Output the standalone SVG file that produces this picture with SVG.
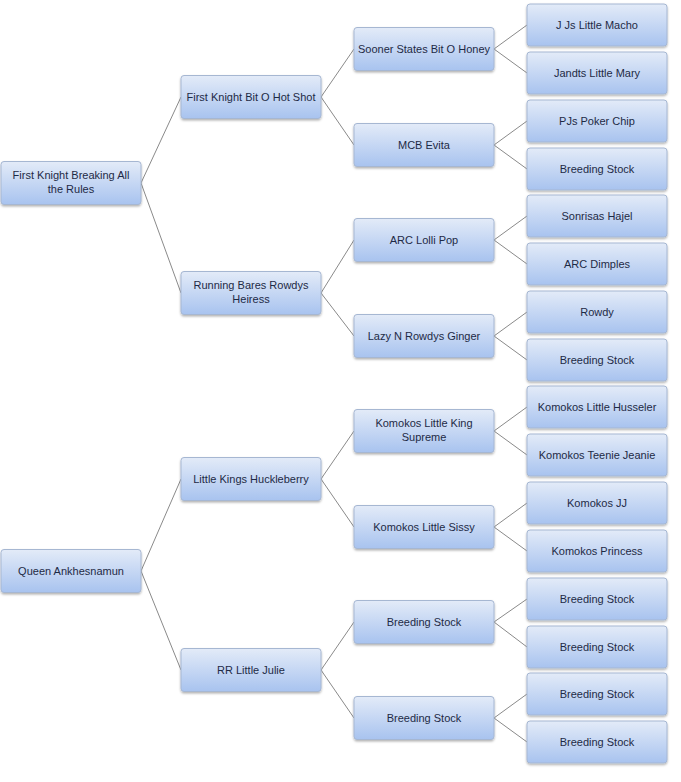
<svg xmlns="http://www.w3.org/2000/svg" width="681" height="782" viewBox="0 0 681 782">
<defs>
<linearGradient id="g" x1="0" y1="0" x2="0" y2="1">
<stop offset="0" stop-color="#e3ebf8"/>
<stop offset="1" stop-color="#a8c3ef"/>
</linearGradient>
<filter id="sh" x="-10%" y="-20%" width="120%" height="150%">
<feDropShadow dx="0" dy="1.5" stdDeviation="1.2" flood-color="#000" flood-opacity="0.3"/>
</filter>
</defs>
<style>
.n rect{fill:url(#g);stroke:#a6b7d2;stroke-width:1;filter:url(#sh)}
.n text{font-family:"Liberation Sans",Arial,sans-serif;font-size:11px;fill:#1e2a45;text-anchor:middle}
#connectors line{stroke:#8a8a8a;stroke-width:1}
</style>
<rect width="681" height="782" fill="#fff"/>
<g id="connectors">
<line x1="141" y1="183" x2="181" y2="97"/>
<line x1="141" y1="183" x2="181" y2="293"/>
<line x1="141" y1="571" x2="181" y2="479"/>
<line x1="141" y1="571" x2="181" y2="670"/>
<line x1="321" y1="97" x2="354" y2="49"/>
<line x1="321" y1="97" x2="354" y2="145"/>
<line x1="321" y1="293" x2="354" y2="240"/>
<line x1="321" y1="293" x2="354" y2="336"/>
<line x1="321" y1="479" x2="354" y2="431"/>
<line x1="321" y1="479" x2="354" y2="527"/>
<line x1="321" y1="670" x2="354" y2="622"/>
<line x1="321" y1="670" x2="354" y2="718"/>
<line x1="494" y1="49" x2="527" y2="25"/>
<line x1="494" y1="49" x2="527" y2="73"/>
<line x1="494" y1="145" x2="527" y2="121"/>
<line x1="494" y1="145" x2="527" y2="169"/>
<line x1="494" y1="240" x2="527" y2="216"/>
<line x1="494" y1="240" x2="527" y2="264"/>
<line x1="494" y1="336" x2="527" y2="312"/>
<line x1="494" y1="336" x2="527" y2="360"/>
<line x1="494" y1="431" x2="527" y2="407"/>
<line x1="494" y1="431" x2="527" y2="455"/>
<line x1="494" y1="527" x2="527" y2="503"/>
<line x1="494" y1="527" x2="527" y2="551"/>
<line x1="494" y1="622" x2="527" y2="599"/>
<line x1="494" y1="622" x2="527" y2="647"/>
<line x1="494" y1="718" x2="527" y2="694"/>
<line x1="494" y1="718" x2="527" y2="742"/>
</g>
<g id="n1" class="n"><rect x="1" y="161.5" width="140" height="43" rx="3"/><text x="71" y="179">First Knight Breaking All</text><text x="71" y="193">the Rules</text></g>
<g id="n2" class="n"><rect x="1" y="549.5" width="140" height="43" rx="3"/><text x="71" y="575">Queen Ankhesnamun</text></g>
<g id="n3" class="n"><rect x="181" y="75.5" width="140" height="43" rx="3"/><text x="251" y="101">First Knight Bit O Hot Shot</text></g>
<g id="n4" class="n"><rect x="181" y="271.5" width="140" height="43" rx="3"/><text x="251" y="289">Running Bares Rowdys</text><text x="251" y="303">Heiress</text></g>
<g id="n5" class="n"><rect x="181" y="457.5" width="140" height="43" rx="3"/><text x="251" y="483">Little Kings Huckleberry</text></g>
<g id="n6" class="n"><rect x="181" y="648.5" width="140" height="43" rx="3"/><text x="251" y="674">RR Little Julie</text></g>
<g id="n7" class="n"><rect x="354" y="27.5" width="140" height="43" rx="3"/><text x="424" y="53">Sooner States Bit O Honey</text></g>
<g id="n8" class="n"><rect x="354" y="123.5" width="140" height="43" rx="3"/><text x="424" y="149">MCB Evita</text></g>
<g id="n9" class="n"><rect x="354" y="218.5" width="140" height="43" rx="3"/><text x="424" y="244">ARC Lolli Pop</text></g>
<g id="n10" class="n"><rect x="354" y="314.5" width="140" height="43" rx="3"/><text x="424" y="340">Lazy N Rowdys Ginger</text></g>
<g id="n11" class="n"><rect x="354" y="409.5" width="140" height="43" rx="3"/><text x="424" y="427">Komokos Little King</text><text x="424" y="441">Supreme</text></g>
<g id="n12" class="n"><rect x="354" y="505.5" width="140" height="43" rx="3"/><text x="424" y="531">Komokos Little Sissy</text></g>
<g id="n13" class="n"><rect x="354" y="600.5" width="140" height="43" rx="3"/><text x="424" y="626">Breeding Stock</text></g>
<g id="n14" class="n"><rect x="354" y="696.5" width="140" height="43" rx="3"/><text x="424" y="722">Breeding Stock</text></g>
<g id="n15" class="n"><rect x="527" y="4" width="140" height="42" rx="3"/><text x="597" y="29">J Js Little Macho</text></g>
<g id="n16" class="n"><rect x="527" y="52" width="140" height="42" rx="3"/><text x="597" y="77">Jandts Little Mary</text></g>
<g id="n17" class="n"><rect x="527" y="100" width="140" height="42" rx="3"/><text x="597" y="125">PJs Poker Chip</text></g>
<g id="n18" class="n"><rect x="527" y="148" width="140" height="42" rx="3"/><text x="597" y="173">Breeding Stock</text></g>
<g id="n19" class="n"><rect x="527" y="195" width="140" height="42" rx="3"/><text x="597" y="220">Sonrisas Hajel</text></g>
<g id="n20" class="n"><rect x="527" y="243" width="140" height="42" rx="3"/><text x="597" y="268">ARC Dimples</text></g>
<g id="n21" class="n"><rect x="527" y="291" width="140" height="42" rx="3"/><text x="597" y="316">Rowdy</text></g>
<g id="n22" class="n"><rect x="527" y="339" width="140" height="42" rx="3"/><text x="597" y="364">Breeding Stock</text></g>
<g id="n23" class="n"><rect x="527" y="386" width="140" height="42" rx="3"/><text x="597" y="411">Komokos Little Husseler</text></g>
<g id="n24" class="n"><rect x="527" y="434" width="140" height="42" rx="3"/><text x="597" y="459">Komokos Teenie Jeanie</text></g>
<g id="n25" class="n"><rect x="527" y="482" width="140" height="42" rx="3"/><text x="597" y="507">Komokos JJ</text></g>
<g id="n26" class="n"><rect x="527" y="530" width="140" height="42" rx="3"/><text x="597" y="555">Komokos Princess</text></g>
<g id="n27" class="n"><rect x="527" y="578" width="140" height="42" rx="3"/><text x="597" y="603">Breeding Stock</text></g>
<g id="n28" class="n"><rect x="527" y="626" width="140" height="42" rx="3"/><text x="597" y="651">Breeding Stock</text></g>
<g id="n29" class="n"><rect x="527" y="673" width="140" height="42" rx="3"/><text x="597" y="698">Breeding Stock</text></g>
<g id="n30" class="n"><rect x="527" y="721" width="140" height="42" rx="3"/><text x="597" y="746">Breeding Stock</text></g>
</svg>
